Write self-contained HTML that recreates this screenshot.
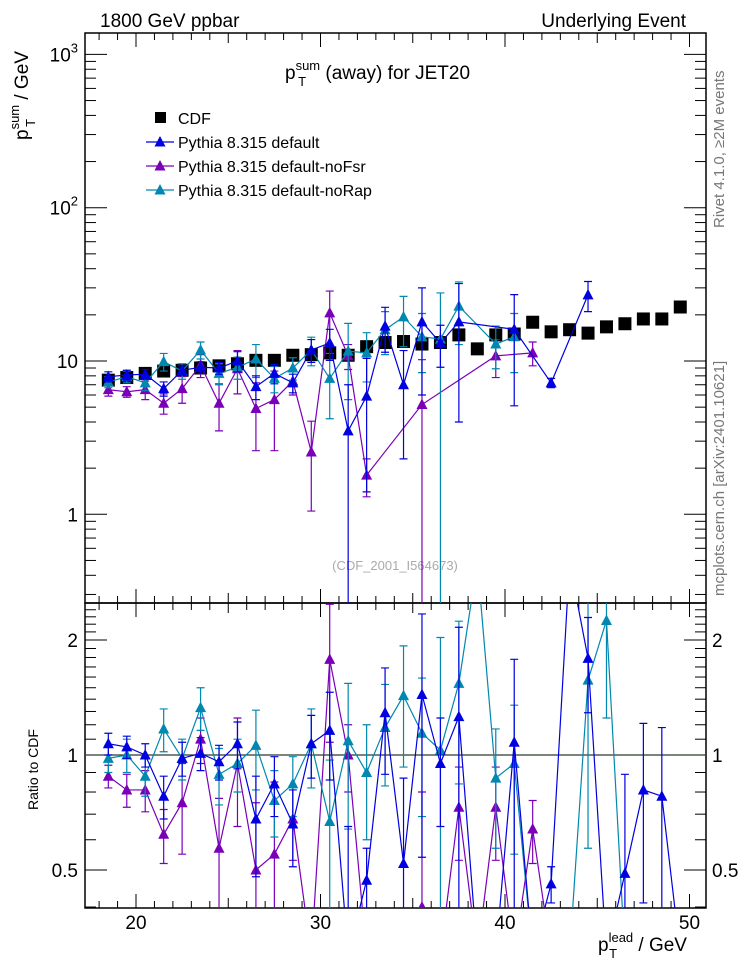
<!DOCTYPE html>
<html><head><meta charset="utf-8">
<style>
html,body{margin:0;padding:0;background:#fff;width:746px;height:972px;overflow:hidden;}
svg{display:block;font-family:"Liberation Sans",Arial,sans-serif;}
</style></head>
<body>
<svg id="chart" width="746" height="972" viewBox="0 0 746 972" xmlns="http://www.w3.org/2000/svg">
<defs>
<clipPath id="clipMain"><rect x="85" y="33" width="621" height="570"/></clipPath>
<clipPath id="clipRatio"><rect x="85" y="603" width="621" height="305"/></clipPath>
</defs>
<text x="100" y="27" font-size="19">1800 GeV ppbar</text>
<text x="686" y="27" font-size="19" text-anchor="end">Underlying Event</text>
<text transform="translate(724,228) rotate(-90)" font-size="15" fill="#777">Rivet 4.1.0, ≥2M events</text>
<text transform="translate(724,596) rotate(-90)" font-size="15" fill="#777">mcplots.cern.ch [arXiv:2401.10621]</text>
<text x="285" y="79" font-size="19">p<tspan font-size="13" dy="-9">sum</tspan><tspan font-size="13" dx="-22" dy="16">T</tspan><tspan dy="-7" dx="14"> (away) for JET20</tspan></text>
<text transform="translate(28,140) rotate(-90)" font-size="19">p<tspan font-size="13" dy="-9">sum</tspan><tspan font-size="13" dx="-22" dy="16">T</tspan><tspan dy="-7" dx="14"> / GeV</tspan></text>
<text transform="translate(38,810) rotate(-90)" font-size="14">Ratio to CDF</text>
<text x="598" y="951" font-size="19">p<tspan font-size="13" dy="-9">lead</tspan><tspan font-size="13" dx="-24" dy="16">T</tspan><tspan dy="-7" dx="16"> / GeV</tspan></text>
<text x="395" y="570" font-size="13" fill="#aaa" text-anchor="middle">(CDF_2001_I564673)</text>
<g id="axes"></g>
<g id="mainMarks" clip-path="url(#clipMain)"></g>
<g id="ratioMarks" clip-path="url(#clipRatio)"></g>
<g id="legend"></g>
</svg>
<script>
const xCenters=[18.5,19.5,20.5,21.5,22.5,23.5,24.5,25.5,26.5,27.5,28.5,29.5,30.5,31.5,32.5,33.5,34.5,35.5,36.5,37.5,38.5,39.5,40.5,41.5,42.5,43.5,44.5,45.5,46.5,47.5,48.5,49.5];
const cdfVals=[7.5,7.8,8.3,8.6,8.7,9.0,9.3,9.6,10.1,10.1,10.9,11.0,11.3,10.9,12.4,13.2,13.4,12.9,13.2,14.8,12.0,14.8,15.0,17.9,15.5,16.0,15.2,16.7,17.5,18.8,18.8,22.5];
const cdfErr=[0.4,0.4,0.4,0.4,0.4,0.4,0.5,0.5,0.5,0.5,0.5,0.5,0.6,0.6,0.6,0.6,0.7,0.7,0.7,0.8,0.8,0.8,0.9,0.9,0.9,1,1,1,1,1,1,1.2];
const defVals=[7.9,8.1,8.2,6.6,8.7,9.1,9.0,10.0,6.8,8.3,7.2,11.8,13.1,3.5,5.9,16.9,7.0,18,13.1,18,null,null,16.1,null,7.2,null,27,null,null,null,null,null];
const defErr=[0.6,0.6,0.6,0.7,0.6,0.8,0.8,1.5,1.2,1.2,1.0,2,3,3.5,4.5,5.5,4.7,12,4,14,0,0,11,0,0.5,0,6,0,0,0,0,0];
const noFsrVals=[6.5,6.3,6.5,5.3,6.6,9.4,5.3,8.9,4.9,5.6,7.4,2.55,20.6,10.8,1.8,null,null,5.2,null,null,null,10.8,null,11.3,null,null,null,null,null,null,null,null];
const noFsrErr=[0.6,0.5,0.9,0.8,1.3,1.6,1.8,2.8,2.3,3.0,1.4,1.5,8,2,0.5,0,0,5,0,0,0,3,0,2,0,0,0,0,0,0,0,0];
const noRapVals=[7.3,7.9,7.2,9.9,8.6,11.8,8.3,9.1,10.3,7.7,9.0,11.8,7.7,11.6,11.3,16,19.4,14.4,13.9,22.8,null,12.9,14.4,null,null,null,null,null,null,null,null,null];
const noRapErr=[0.6,0.7,0.8,1.3,1.0,1.5,1.3,1.5,2.5,1.5,1.5,2.5,3.5,6,4,5,7,6,13.9,10,0,4,6,0,0,0,0,0,0,0,0,0];
const defRatio=[1.07,1.05,1.0,0.78,0.98,1.01,0.96,1.07,0.68,0.84,0.66,1.07,1.16,0.3,0.47,1.29,0.52,1.44,0.95,1.26,0.3,0.3,1.08,0.3,0.46,3.2,1.79,0.3,0.49,0.81,0.78,0.3];
const defRatioErr=[0.07,0.07,0.07,0.1,0.1,0.1,0.1,0.15,0.2,0.15,0.15,0.2,0.3,0.35,0.1,0.4,0.35,0.9,0.3,0.9,0,0,0.7,0,0.05,0,0.5,0,0.4,0.4,0.4,0];
const noFsrRatio=[0.88,0.81,0.81,0.62,0.75,1.10,0.57,0.95,0.50,0.55,0.68,0.3,1.78,1.0,0.3,0.3,0.3,0.4,0.3,0.73,0.3,0.73,0.3,0.64,0.3,null,null,null,null,null,null,null];
const noFsrRatioErr=[0.06,0.08,0.1,0.1,0.2,0.15,0.2,0.3,0.25,0.3,0.15,0,0.7,0.2,0,0,0,0.4,0,0.2,0,0.2,0,0.12,0,0,0,0,0,0,0,0];
const noRapRatio=[0.98,1.0,0.88,1.17,0.98,1.33,0.89,0.95,1.06,0.76,0.84,1.07,0.67,1.09,0.90,1.18,1.43,1.14,1.03,1.54,3.2,0.87,0.95,0.3,0.3,0.3,1.57,2.25,0.3,null,null,null];
const noRapRatioErr=[0.08,0.1,0.1,0.15,0.12,0.17,0.15,0.15,0.25,0.15,0.15,0.25,0.3,0.45,0.3,0.35,0.5,0.45,1.0,0.7,0,0.3,0.4,0,0,0,1.0,1.0,0,0,0,0];
const legendLabels=["CDF","Pythia 8.315 default","Pythia 8.315 default-noFsr","Pythia 8.315 default-noRap"];
const xTicks=[20,30,40,50];
const yTicks=[1,10,100,1000];
const rTicks=[0.5,1,2];

const NS="http://www.w3.org/2000/svg";
const X0=85,X1=706,MT=33,MB=603,RB=908;
function xs(v){return 136+(v-20)*18.45;}
function ys(v){return 361-(Math.log10(v)-1)*153.3;}
function yr(r){return 755-Math.log2(r)*115;}
function mk(tag,attrs,parent){const e=document.createElementNS(NS,tag);for(const k in attrs)e.setAttribute(k,attrs[k]);parent.appendChild(e);return e;}
const axes=document.getElementById('axes');
let f=mk('rect',{x:X0,y:MT,width:X1-X0,height:MB-MT,fill:'none',stroke:'#000','stroke-width':1.5},axes);


f=mk('rect',{x:X0,y:MB,width:X1-X0,height:RB-MB,fill:'none',stroke:'#000','stroke-width':1.5},axes);


for(let v=18;v<=50;v++){
  const x=xs(v);const L=(v%10===0)?14:(v%5===0?10:7);
  for(const [yy,d] of [[MT,1],[MB,-1],[MB,1],[RB,-1]]){
    const t=mk('line',{x1:x,x2:x,y1:yy,y2:yy+d*L,stroke:'#000','stroke-width':1},axes);
    
    
  }
}
xTicks.forEach(v=>{
  const t=mk('text',{x:xs(v),y:929,'font-size':19,'text-anchor':'middle'},axes);t.textContent=v;
  
  
});
for(let d=0.1;d<2000;d*=10){
  for(let m=1;m<10;m++){
    const v=d*m; const y=ys(v); if(y<MT||y>MB) continue;
    const L=m===1?22:11;
    for(const [xx,s] of [[X0,1],[X1,-1]]){
      const t=mk('line',{x1:xx,x2:xx+s*L,y1:y,y2:y,stroke:'#000','stroke-width':1},axes);
      
      
    }
  }
}
yTicks.forEach((v,i)=>{
  const t=mk('text',{x:78,y:ys(v)+7,'font-size':19,'text-anchor':'end'},axes);
  if(v>=100){t.textContent='10';const s=mk('tspan',{'font-size':13,dy:-9},t);s.textContent=(v===100?'2':'3');}
  else t.textContent=v;
  
  
});
[0.4,0.5,0.6,0.7,0.8,0.9,1,1.1,1.2,1.3,1.4,1.5,1.6,1.7,1.8,1.9,2,2.1,2.2,2.3,2.4,2.5].forEach(r=>{
  const y=yr(r); if(y<MB||y>RB) return;
  const L=(r===0.5||r===1||r===2)?22:11;
  for(const [xx,s] of [[X0,1],[X1,-1]]){
    const t=mk('line',{x1:xx,x2:xx+s*L,y1:y,y2:y,stroke:'#000','stroke-width':1},axes);
    
    
  }
});
rTicks.forEach(r=>{
  for(const [xx,a] of [[78,'end'],[712,'start']]){
    const t=mk('text',{x:xx,y:yr(r)+7,'font-size':19,'text-anchor':a},axes);t.textContent=r;
    
    
  }
});
let ref=mk('line',{x1:X0,x2:X1,y1:yr(1),y2:yr(1),stroke:'#2a3a2a','stroke-width':1.2},axes);



function tri(g,x,y,c){return mk('path',{d:`M${x-5.5},${y+4.5}L${x+5.5},${y+4.5}L${x},${y-6}Z`,fill:c},g);}
function drawSeries(g,vals,errs,c,yfn,ymin,name){
  const sg=mk('g',{},g);
  
  
  const pts=[];
  vals.forEach((v,i)=>{if(v!==null)pts.push([xs(xCenters[i]),yfn(v),v,errs[i]]);});
  mk('polyline',{points:pts.map(p=>p[0]+','+p[1]).join(' '),fill:'none',stroke:c,'stroke-width':1.2},sg);
  pts.forEach(p=>{
    const [x,y,v,e]=p;
    if(e>0){
      const lo=yfn(Math.max(v-e,ymin)),hi=yfn(v+e);
      const eb=mk('path',{d:`M${x},${lo}L${x},${hi}M${x-4},${lo}L${x+4},${lo}M${x-4},${hi}L${x+4},${hi}`,stroke:c,'stroke-width':1.2,fill:'none'},sg);
      
      
    }
    const m=tri(sg,x,y,c);
    
    
  });
}
const main=document.getElementById('mainMarks');
const ratio=document.getElementById('ratioMarks');
const cg=mk('g',{},main);


cdfVals.forEach((v,i)=>{
  const x=xs(xCenters[i]),y=ys(v);
  mk('line',{x1:x,x2:x,y1:ys(v-cdfErr[i]),y2:ys(v+cdfErr[i]),stroke:'#000'},cg);
  const s=mk('rect',{x:x-6.5,y:y-6.5,width:13,height:13,fill:'#000'},cg);
  
  
});
drawSeries(main,noFsrVals,noFsrErr,'#7a00b8',ys,0.26,'noFsr-series');
drawSeries(main,noRapVals,noRapErr,'#0088b0',ys,0.26,'noRap-series');
drawSeries(main,defVals,defErr,'#0000e0',ys,0.26,'default-series');
drawSeries(ratio,noFsrRatio,noFsrRatioErr,'#7a00b8',yr,0.38,'noFsr-ratio-series');
drawSeries(ratio,noRapRatio,noRapRatioErr,'#0088b0',yr,0.38,'noRap-ratio-series');
drawSeries(ratio,defRatio,defRatioErr,'#0000e0',yr,0.38,'default-ratio-series');
const lg=document.getElementById('legend');
const lcol=['#000','#0000e0','#7a00b8','#0088b0'];
legendLabels.forEach((lab,i)=>{
  const y=118+i*24;
  const g=mk('g',{},lg);
  
  
  if(i===0) mk('rect',{x:155,y:y-6,width:11,height:11,fill:'#000'},g);
  else {mk('line',{x1:146,x2:174,y1:y,y2:y,stroke:lcol[i],'stroke-width':1.2},g);tri(g,160,y,lcol[i]);}
  const t=mk('text',{x:178,y:y+6,'font-size':16},g);t.textContent=lab;
});
</script>
</body></html>
